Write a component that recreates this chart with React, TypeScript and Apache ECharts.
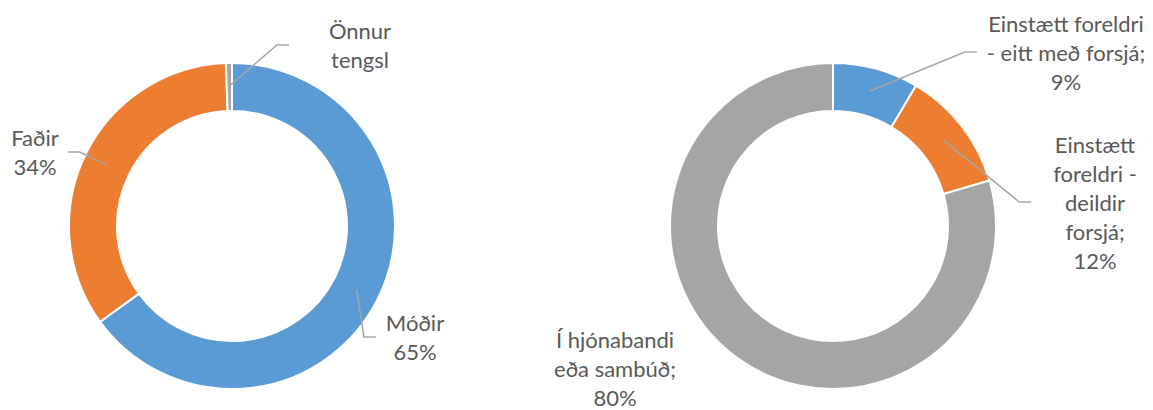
import React, { useEffect, useRef } from 'react';
import * as echarts from 'echarts';

// Left donut: relationship
const parentCategories = ['Móðir', 'Faðir', 'Önnur tengsl'];
const parentValues = [65, 34.4, 0.6];
const parentLabels = ['Móðir\n65%', 'Faðir\n34%', 'Önnur\ntengsl'];

// Right donut: family type
const familyCategories = [
  'Einstætt foreldri - eitt með forsjá',
  'Einstætt foreldri - deildir forsjá',
  'Í hjónabandi eða sambúð',
];
const familyValues = [8.5, 12, 79.5];
const familyLabels = [
  'Einstætt foreldri\n- eitt með forsjá;\n9%',
  'Einstætt\nforeldri -\ndeildir\nforsjá;\n12%',
  'Í hjónabandi\neða sambúð;\n80%',
];

const colors = ['#5B9BD5', '#ED7D31', '#A5A5A5'];

// label placement (layout only)
const leftLabelPos = [
  { x: 415, y: 337, gap: 10 },
  { x: 35, y: 152, gap: 9 },
  { x: 360, y: 45, gap: 40 },
];
const rightLabelPos = [
  { x: 1066, y: 52, gap: 10 },
  { x: 1095, y: 202, gap: 22 },
  { x: 615, y: 368, gap: 0 },
];

const LEFT_C = [232, 226];
const RIGHT_C = [833, 226];
const RADIUS = [115, 163];
const MID_R = 140;

function makeLayout(pos: any[], values: number[], cx: number, cy: number, noLineIdx: number) {
  const total = values.reduce((a, b) => a + b, 0);
  const mids: number[] = [];
  let cum = 0;
  values.forEach((v) => {
    mids.push(((cum + v / 2) / total) * Math.PI * 2);
    cum += v;
  });
  return (params: any) => {
    const i = params.dataIndex;
    const p = pos[i];
    const w = params.labelRect.width;
    const res: any = { x: p.x, y: p.y, align: 'center', verticalAlign: 'middle' };
    if (i !== noLineIdx) {
      const a = mids[i];
      const start = [cx + Math.sin(a) * MID_R, cy - Math.cos(a) * MID_R];
      const right = p.x > start[0];
      const endX = right ? p.x - w / 2 - p.gap : p.x + w / 2 + p.gap;
      const elbowX = right ? endX - 12 : endX + 12;
      res.labelLinePoints = [start, [elbowX, p.y], [endX, p.y]];
    }
    return res;
  };
}

function makeSeries(names: string[], values: number[], labels: string[], center: number[], pos: any[], noLineIdx: number) {
  const common = {
    type: 'pie',
    center,
    radius: RADIUS,
    startAngle: 90,
    clockwise: true,
    avoidLabelOverlap: false,
    silent: true,
    emphasis: { disabled: true },
  };
  const base = {
    ...common,
    z: 2,
    itemStyle: { borderColor: '#ffffff', borderWidth: 2 },
    label: { show: false },
    labelLine: { show: false },
    data: names.map((n, i) => ({ name: n, value: values[i], itemStyle: { color: colors[i] } })),
  };
  const overlay = {
    ...common,
    z: 5,
    itemStyle: { color: 'rgba(0,0,0,0)', borderWidth: 0 },
    label: {
      show: true,
      position: 'outside',
      formatter: (p: any) => labels[p.dataIndex],
      color: '#595959',
      fontFamily: 'Lato',
      fontSize: 22,
      lineHeight: 29,
      align: 'center',
    },
    labelLine: { show: true, showAbove: true, smooth: false, lineStyle: { color: '#A6A6A6', width: 1.5, opacity: 1 } },
    labelLayout: makeLayout(pos, values, center[0], center[1], noLineIdx),
    data: names.map((n, i) => ({
      name: n,
      value: values[i],
      ...(i === noLineIdx ? { labelLine: { show: false } } : {}),
    })),
  };
  return [base, overlay];
}

export default function App() {
  const ref = useRef<HTMLDivElement>(null);
  useEffect(() => {
    document.body.style.margin = '0';
    const chart = echarts.init(ref.current!, null, { renderer: 'svg' });
    chart.setOption({
      animation: false,
      backgroundColor: '#ffffff',
      series: [
        ...makeSeries(parentCategories, parentValues, parentLabels, LEFT_C, leftLabelPos, -1),
        ...makeSeries(familyCategories, familyValues, familyLabels, RIGHT_C, rightLabelPos, 2),
      ],
    });
    return () => chart.dispose();
  }, []);
  return <div ref={ref} style={{ width: 1153, height: 410 }} />;
}
